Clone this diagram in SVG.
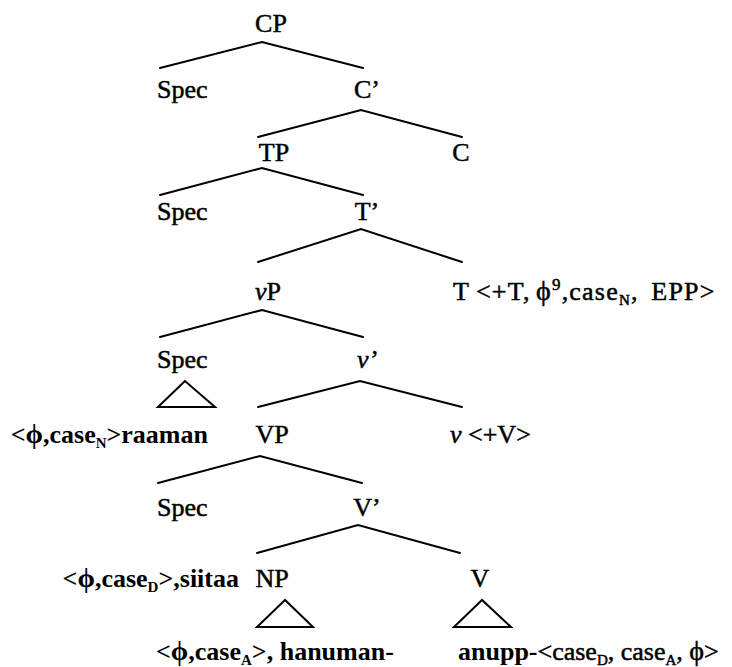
<svg xmlns="http://www.w3.org/2000/svg" width="732" height="667" viewBox="0 0 732 667">
  <style>
    text { font-family: "Liberation Serif", "Times New Roman", serif; font-size: 26px; fill: #000; }
    .cat { stroke: #000; stroke-width: 0.5px; }
    .lex { font-weight: bold; }
    .reg { font-weight: normal; stroke: #000; stroke-width: 0.5px; }
    .it { font-style: italic; }
    .phi { font-size: 28px; }
    .sub { font-size: 15px; }
    .sup { font-size: 17px; }
    .wide { letter-spacing: 1.2px; word-spacing: 5px; }
    .edge { stroke: #000; stroke-width: 2; stroke-linecap: round; fill: none; }
    .tri { stroke: #000; stroke-width: 2; stroke-linejoin: miter; fill: none; }
  </style>

  <!-- branches -->
  <g id="connectors">
    <polyline class="edge" points="160,68 262,42 363,68"/>
    <polyline class="edge" points="258,137 361,110 462,137"/>
    <polyline class="edge" points="160,195 262,168 363,195"/>
    <polyline class="edge" points="258,262 361,229 462,262"/>
    <polyline class="edge" points="160,337 262,310 363,337"/>
    <polyline class="edge" points="258,407 360,381 462,407"/>
    <polyline class="edge" points="158,483 260,456 362,483"/>
    <polyline class="edge" points="257,553 358,525 460,553"/>
  </g>

  <g id="cp"><text class="cat" x="271" y="32" text-anchor="middle">CP</text></g>
  <g id="spec-c"><text class="cat" x="157" y="98">Spec</text></g>
  <g id="c-bar"><text class="cat" x="367" y="98" text-anchor="middle">C’</text></g>
  <g id="tp"><text class="cat" x="274" y="161" text-anchor="middle">TP</text></g>
  <g id="c-head"><text class="cat" x="461" y="161" text-anchor="middle">C</text></g>
  <g id="spec-t"><text class="cat" x="157" y="220">Spec</text></g>
  <g id="t-bar"><text class="cat" x="367" y="220" text-anchor="middle">T’</text></g>
  <g id="vp-little"><text class="cat" x="268" y="300" text-anchor="middle"><tspan class="it">ν</tspan>P</text></g>
  <g id="t-head">
    <text class="cat wide" x="453" y="300">T<tspan x="476">&lt;+T,</tspan><tspan class="phi" x="536">ϕ</tspan><tspan class="sup" dy="-10">9</tspan><tspan dy="10">,case</tspan><tspan class="sub" dy="5">N</tspan><tspan dy="-5">, EPP&gt;</tspan></text>
  </g>
  <g id="spec-v-little">
    <text class="cat" x="157" y="368">Spec</text>
    <polygon class="tri" points="185,381 158,407 215,407"/>
  </g>
  <g id="v-little-bar"><text class="cat it" x="367" y="368" text-anchor="middle">ν’</text></g>
  <g id="raaman">
    <text class="lex" x="208" y="443" text-anchor="end">&lt;<tspan class="phi">ϕ</tspan>,case<tspan class="sub" dy="5">N</tspan><tspan dy="-5">&gt;raaman</tspan></text>
  </g>
  <g id="vp"><text class="cat" x="272" y="443" text-anchor="middle">VP</text></g>
  <g id="v-little-head"><text class="cat" x="450" y="443"><tspan class="it">ν</tspan> &lt;+V&gt;</text></g>
  <g id="spec-v"><text class="cat" x="157" y="516">Spec</text></g>
  <g id="v-bar"><text class="cat" x="367" y="516" text-anchor="middle">V’</text></g>
  <g id="siitaa">
    <text class="lex" x="239" y="587" text-anchor="end">&lt;<tspan class="phi">ϕ</tspan>,case<tspan class="sub" dy="5">D</tspan><tspan dy="-5">&gt;,siitaa</tspan></text>
  </g>
  <g id="np">
    <text class="cat" x="272" y="587" text-anchor="middle">NP</text>
    <polygon class="tri" points="285,600 257,627 313,627"/>
  </g>
  <g id="v-head">
    <text class="cat" x="480" y="587" text-anchor="middle">V</text>
    <polygon class="tri" points="482,600 454,627 511,627"/>
  </g>
  <g id="hanuman">
    <text class="lex" x="156" y="660">&lt;<tspan class="phi">ϕ</tspan>,case<tspan class="sub" dy="5">A</tspan><tspan dy="-5">&gt;, hanuman-</tspan></text>
  </g>
  <g id="anupp">
    <text class="lex" x="458" y="660">anupp-<tspan class="reg">&lt;case</tspan><tspan class="reg sub" dy="5">D</tspan><tspan class="reg" dy="-5">, case</tspan><tspan class="reg sub" dy="5">A</tspan><tspan class="reg" dy="-5">, </tspan><tspan class="reg phi">ϕ</tspan><tspan class="reg">&gt;</tspan></text>
  </g>
</svg>
